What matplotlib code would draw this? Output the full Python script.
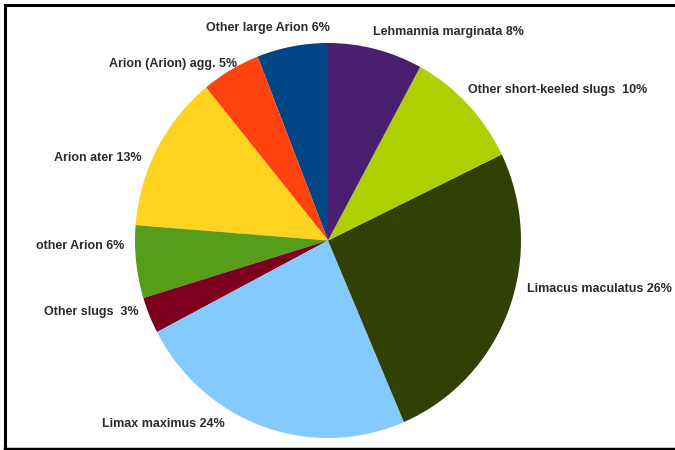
import numpy as np
import matplotlib
matplotlib.use("Agg")
import matplotlib.pyplot as plt
import matplotlib.transforms as mtransforms
from matplotlib.lines import Line2D

# Data (drawn counter-clockwise from 12 o'clock, as in the original)
categories = ["Other large Arion", "Arion (Arion) agg.", "Arion ater", "other Arion",
              "Other slugs", "Limax maximus", "Limacus maculatus",
              "Other short-keeled slugs", "Lehmannia marginata"]
values = [6, 5, 13, 6, 3, 24, 26, 10, 8]
label_texts = ["Other large Arion 6%", "Arion (Arion) agg. 5%", "Arion ater 13%",
               "other Arion 6%", "Other slugs  3%", "Limax maximus 24%",
               "Limacus maculatus 26%", "Other short-keeled slugs  10%",
               "Lehmannia marginata 8%"]
colors = ["#004586", "#FF420E", "#FFD320", "#579D1C", "#7E0021", "#83CAFF",
          "#314004", "#AECF00", "#4B1F6F"]

# label nudges (pixels: right, down) to mimic the original label placement
label_nudges = [(39, -3), (11, 3), (-7, 14), (-2, -17), (-2, -7),
                (-35, -18), (9, -24), (-7, -7), (-5, -2)]

plt.rcParams['font.family'] = ['Liberation Sans', 'DejaVu Sans']

W, H = 675, 450
fig = plt.figure(figsize=(W / 100, H / 100), dpi=100)
fig.patch.set_facecolor("white")

cx, cy, rx, ry = 328, 240.5, 193, 197.5
ax = fig.add_axes([(cx - rx) / W, (H - cy - ry) / H, 2 * rx / W, 2 * ry / H])

wedges, texts = ax.pie(values, labels=label_texts, colors=colors, startangle=90,
                       counterclock=True, labeldistance=1.05,
                       wedgeprops=dict(linewidth=0),
                       textprops=dict(fontsize=9, fontweight='bold', color='#2b2b2b'))
ax.set_aspect('auto')
ax.set_xlim(-1, 1)
ax.set_ylim(-1, 1)

for w, t, (dx, dy) in zip(wedges, texts, label_nudges):
    ang = np.deg2rad((w.theta1 + w.theta2) / 2)
    c, s = np.cos(ang), np.sin(ang)
    if c > 0.2:
        t.set_ha('left')
    elif c < -0.05:
        t.set_ha('right')
    else:
        t.set_ha('center')
    if s > 0.9:
        t.set_va('bottom')
    elif s < -0.9:
        t.set_va('top')
    else:
        t.set_va('center')
    t.set_transform(t.get_transform() +
                    mtransforms.ScaledTranslation(dx / 100, -dy / 100, fig.dpi_scale_trans))

# frame around the picture
def px_line(x0, y0, x1, y1, lw):
    fig.add_artist(Line2D([x0 / W, x1 / W], [1 - y0 / H, 1 - y1 / H],
                          transform=fig.transFigure, color='black', linewidth=lw,
                          solid_capstyle='projecting'))

px_line(5, 4.5, 675, 4.5, 2.2)
px_line(5, 4.5, 5, 448.5, 2.2)
px_line(5, 448.5, 675, 448.5, 2.5)

fig.savefig("out.png", dpi=100, facecolor="white")
